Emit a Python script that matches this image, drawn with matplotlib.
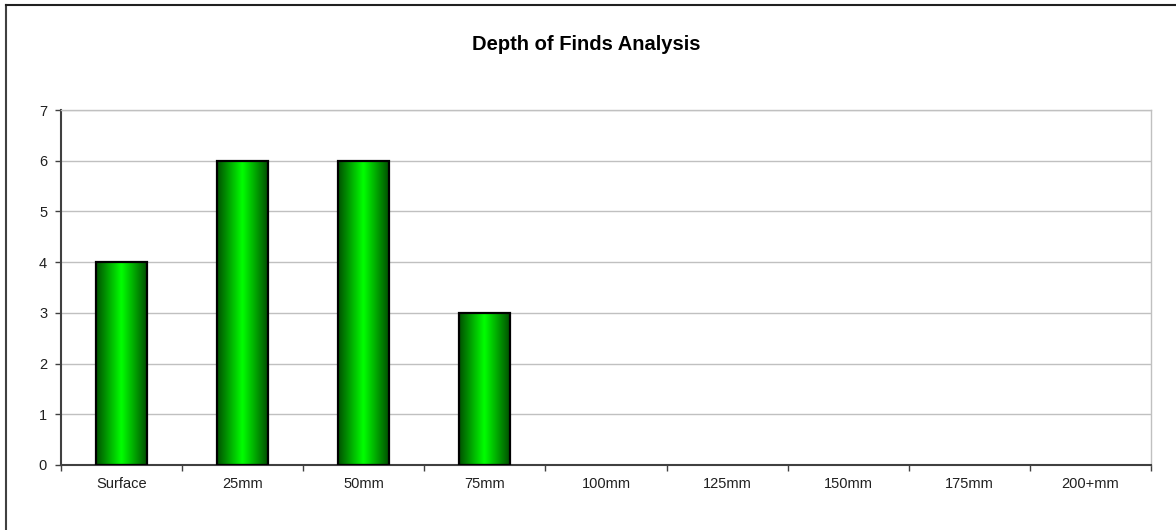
import numpy as np
import matplotlib
matplotlib.use("Agg")
import matplotlib.pyplot as plt
from matplotlib.colors import LinearSegmentedColormap
from matplotlib.lines import Line2D

plt.rcParams['font.family'] = ['Liberation Sans', 'DejaVu Sans']

# data
categories = ["Surface", "25mm", "50mm", "75mm", "100mm", "125mm", "150mm", "175mm", "200+mm"]
finds = [4, 6, 6, 3, 0, 0, 0, 0, 0]
title = "Depth of Finds Analysis"

fig = plt.figure(figsize=(11.76, 5.30), dpi=100)
ax = fig.add_axes([61 / 1176, 1 - 465 / 530, 1090 / 1176, 355 / 530])

x = np.arange(len(categories))
width = 0.42

# horizontal shading for the bars: dark edges, bright middle
green = LinearSegmentedColormap.from_list("bargreen", ["#005000", "#00ff00", "#005000"])
grad = np.linspace(0, 1, 256).reshape(1, -1)

bars = ax.bar(x, finds, width=width, color="none", edgecolor="black", linewidth=1.6, zorder=3)
for b in bars:
    h = b.get_height()
    if h <= 0:
        b.set_visible(False)
        continue
    x0 = b.get_x()
    ax.imshow(grad, cmap=green, aspect="auto", extent=[x0, x0 + b.get_width(), 0, h],
              zorder=2, interpolation="bicubic")

ax.set_xlim(-0.5, len(categories) - 0.5)
ax.set_ylim(0, 7)
ax.set_yticks(range(0, 8))
ax.yaxis.grid(True, color="#c0c0c0", linewidth=1, zorder=0)
ax.set_axisbelow(True)

# category labels centred, ticks at the boundaries
ax.set_xticks(x)
ax.set_xticklabels(categories, fontsize=10.5, color="#202020")
ax.tick_params(axis="x", length=0, pad=9)
ax.set_xticks(np.arange(len(categories) + 1) - 0.5, minor=True)
ax.tick_params(axis="x", which="minor", length=4, width=1, color="#404040", direction="out")
ax.tick_params(axis="y", length=4, width=1, color="#404040", labelsize=10.5, labelcolor="#202020", pad=6)

for s in ["left", "bottom"]:
    ax.spines[s].set_color("#404040")
    ax.spines[s].set_linewidth(1.5)
for s in ["top", "right"]:
    ax.spines[s].set_color("#c0c0c0")
    ax.spines[s].set_linewidth(1)

fig.text(586 / 1176, 1 - 45 / 530, title, ha="center", va="center", fontsize=14.5, fontweight="bold")

# chart area border (only top and left visible in the crop)
fig.add_artist(Line2D([6 / 1176, 6 / 1176], [0, 1 - 5 / 530], transform=fig.transFigure, color="#404040", linewidth=1.5))
fig.add_artist(Line2D([6 / 1176, 1], [1 - 5 / 530, 1 - 5 / 530], transform=fig.transFigure, color="#202020", linewidth=1.5))

fig.savefig("out.png", dpi=100)
